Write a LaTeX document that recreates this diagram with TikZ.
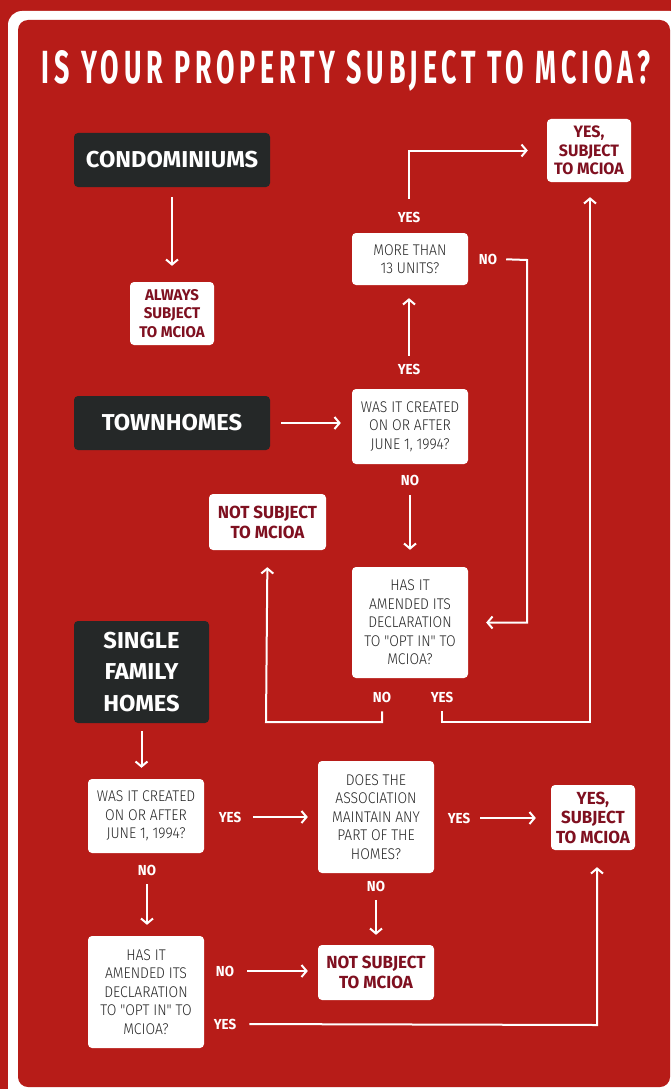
\documentclass[tikz,border=0pt]{standalone}
\usepackage{fontspec}
\usepackage{graphicx}
\usetikzlibrary{arrows.meta,calc}
\setmainfont{Fira Sans}
\newfontfamily\titlefont[LetterSpace=18]{Fira Sans}
\newfontfamily\boxfont[FakeStretch=1.03]{Fira Sans}
\newfontfamily\rfont[FakeStretch=0.97]{Fira Sans}
\newfontfamily\qfont[FakeStretch=0.9]{Fira Sans Light}
\newfontfamily\lblfont[FakeStretch=0.92]{Fira Sans}
\definecolor{bgred}{HTML}{B71C18}
\definecolor{boxdark}{HTML}{252828}
\definecolor{dkred}{HTML}{7F1020}
\definecolor{qgray}{HTML}{262626}
\tikzset{
  darkbox/.style={fill=boxdark, rounded corners=4pt, text=white, inner sep=0pt, align=center,
    font=\boxfont\bfseries\fontsize{23}{31.5}\selectfont},
  qbox/.style={fill=white, rounded corners=4pt, text=qgray, inner sep=0pt, align=center,
    font=\qfont\fontsize{15.5}{18.5}\selectfont},
  rbox/.style={fill=white, rounded corners=4pt, text=dkred, inner sep=0pt, align=center},
  lbl/.style={text=white, inner sep=0pt, font=\lblfont\bfseries\fontsize{14.5}{16}\selectfont},
  arr/.style={draw=white, line width=2pt, -{Straight Barb[length=5pt,width=12pt,line width=2pt]}},
}
\begin{document}
\begin{tikzpicture}[x=1pt,y=-1pt]
\useasboundingbox (0,0) rectangle (671,1089);
% background and frame
\fill[bgred] (0,0) rectangle (671,1089);
\fill[white, rounded corners=14pt] (8,11) rectangle (684,1102);
\fill[bgred, rounded corners=10pt] (18,20) rectangle (670,1087);
% title
\node[text=white] (title) at (346,71) {\resizebox{608pt}{33pt}{\titlefont\bfseries IS YOUR PROPERTY SUBJECT TO MCIOA?}};

% boxes
\node[darkbox, minimum width=196pt, minimum height=54pt] (condo) at (172,160) {CONDOMINIUMS};
\node[rbox, minimum width=84pt, minimum height=63pt, font=\rfont\bfseries\fontsize{15.5}{18.3}\selectfont] (always) at (172,313.5) {ALWAYS\\SUBJECT\\TO MCIOA};
\node[rbox, minimum width=84pt, minimum height=63pt, font=\rfont\bfseries\fontsize{16.5}{18.7}\selectfont] (yes1) at (589,150.5) {YES,\\SUBJECT\\TO MCIOA};
\node[qbox, minimum width=116pt, minimum height=52pt] (more13) at (410,259) {MORE THAN\\13 UNITS?};
\node[darkbox, minimum width=196pt, minimum height=54pt] (town) at (172,423) {TOWNHOMES};
\node[qbox, minimum width=116pt, minimum height=75pt] (created1) at (410,426.5) {WAS IT CREATED\\ON OR AFTER\\JUNE 1, 1994?};
\node[rbox, minimum width=117pt, minimum height=56pt, font=\rfont\bfseries\fontsize{17.5}{20}\selectfont] (notsub1) at (267.5,522) {NOT SUBJECT\\TO MCIOA};
\node[qbox, minimum width=116pt, minimum height=111pt] (optin1) at (410,622.5) {HAS IT\\AMENDED ITS\\DECLARATION\\TO "OPT IN" TO\\MCIOA?};
\node[darkbox, minimum width=135pt, minimum height=102pt] (single) at (141.5,672) {SINGLE\\FAMILY\\HOMES};
\node[qbox, minimum width=116pt, minimum height=74pt] (created2) at (146,816) {WAS IT CREATED\\ON OR AFTER\\JUNE 1, 1994?};
\node[qbox, minimum width=116pt, minimum height=112pt] (optin2) at (146,992) {HAS IT\\AMENDED ITS\\DECLARATION\\TO "OPT IN" TO\\MCIOA?};
\node[qbox, minimum width=116pt, minimum height=112pt] (assoc) at (376,817) {DOES THE\\ASSOCIATION\\MAINTAIN ANY\\PART OF THE\\HOMES?};
\node[rbox, minimum width=84pt, minimum height=65pt, font=\rfont\bfseries\fontsize{17.5}{19.5}\selectfont] (yes2) at (593,817.5) {YES,\\SUBJECT\\TO MCIOA};
\node[rbox, minimum width=116pt, minimum height=55pt, font=\rfont\bfseries\fontsize{17.5}{20}\selectfont] (notsub2) at (376,972.5) {NOT SUBJECT\\TO MCIOA};

% labels
\node[lbl] (yesB) at (409,217) {YES};
\node[lbl] (noA) at (488,259) {NO};
\node[lbl] (yesA) at (409,369) {YES};
\node[lbl] (noB) at (410,480) {NO};
\node[lbl] (noC) at (382,697) {NO};
\node[lbl] (yesC) at (442,697) {YES};
\node[lbl] (yesD) at (230,817) {YES};
\node[lbl] (noD) at (147,870) {NO};
\node[lbl] (noE) at (225,971) {NO};
\node[lbl] (yesE) at (225,1024) {YES};
\node[lbl] (yesF) at (459,818) {YES};
\node[lbl] (noF) at (376,886) {NO};

% helper coordinates
\coordinate (c1) at (527,260);
\coordinate (c2) at (266,722);
\coordinate (c3) at (590,722);
\coordinate (c4) at (597,1025);

% connectors
\draw[arr, shorten <=10pt, shorten >=16pt] (condo.south) -- (always.north);
\draw[arr, shorten <=11pt, shorten >=11pt] (town.east) -- (town.east -| created1.west);
\draw[arr, shorten <=8pt, shorten >=13pt] (yesA.north) -- (yesA.north |- more13.south);
\draw[arr, shorten <=13pt, shorten >=19pt] (yesB.north) |- (yes1.west);
\draw[arr, shorten <=9pt, shorten >=18pt] (noA.east) -- (c1) |- (optin1.east);
\draw[arr, shorten <=10pt, shorten >=17pt] (noB.south) -- (noB.south |- optin1.north);
\draw[arr, shorten <=9pt, shorten >=17pt] (noC.south) |- (c2) -- (notsub1.south);
\draw[arr, shorten <=9pt, shorten >=15pt] (yesC.south) |- (c3) -- (c3 |- yes1.south);
\draw[arr, shorten <=8pt, shorten >=11pt] (single.south) -- (single.south |- created2.north);
\draw[arr, shorten <=12pt, shorten >=10pt] (yesD.east) -- (yesD.east -| assoc.west);
\draw[arr, shorten <=9pt, shorten >=11pt] (noD.south) -- (noD.south |- optin2.north);
\draw[arr, shorten <=13pt, shorten >=10pt] (noE.east) -- (noE.east -| notsub2.west);
\draw[arr, shorten <=13pt, shorten >=17pt] (yesE.east) -- (c4) -- (c4 |- yes2.south);
\draw[arr, shorten <=10pt, shorten >=15pt] (yesF.east) -- (yesF.east -| yes2.west);
\draw[arr, shorten <=9pt, shorten >=10pt] (noF.south) -- (noF.south |- notsub2.north);
\end{tikzpicture}
\end{document}
